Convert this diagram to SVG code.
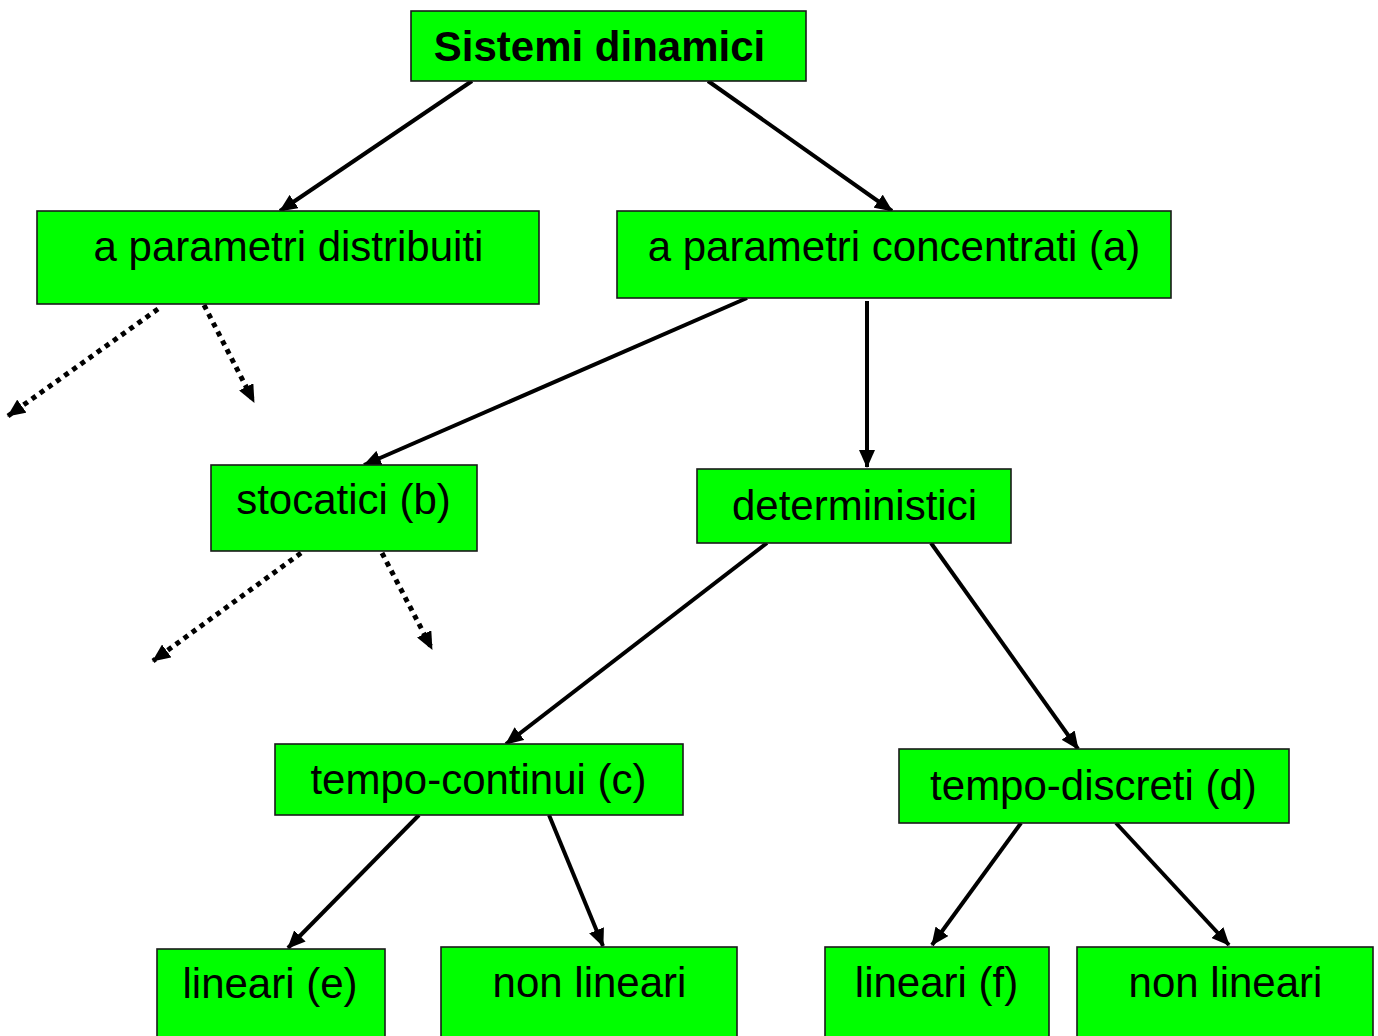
<svg xmlns="http://www.w3.org/2000/svg" width="1378" height="1036" viewBox="0 0 1378 1036">
<style>
.box{fill:#00FF00;stroke:#1a1a1a;stroke-width:1.6}
.t{font-family:"Liberation Sans",Arial,sans-serif;font-size:42px;fill:#000;text-anchor:middle}
.b{font-weight:bold}
.c{stroke:#000;stroke-width:4;fill:none}
.d{stroke:#000;stroke-width:5;fill:none;stroke-dasharray:5 5}
</style>
<defs>
<marker id="ah" markerUnits="userSpaceOnUse" markerWidth="18" markerHeight="16" refX="17" refY="8" orient="auto">
<path d="M0,0 L18,8 L0,16 z" fill="#000"/>
</marker>
</defs>
<rect width="1378" height="1036" fill="#fff"/>
<g id="connectors">
<line class="c" x1="472" y1="81" x2="280" y2="211" marker-end="url(#ah)"/>
<line class="c" x1="708" y1="81" x2="892" y2="211" marker-end="url(#ah)"/>
<line class="c" x1="747" y1="298" x2="364" y2="465" marker-end="url(#ah)"/>
<line class="c" x1="867" y1="301" x2="867" y2="467" marker-end="url(#ah)"/>
<line class="c" x1="767" y1="543" x2="506" y2="744" marker-end="url(#ah)"/>
<line class="c" x1="931" y1="543" x2="1078" y2="749" marker-end="url(#ah)"/>
<line class="c" x1="419" y1="815" x2="288" y2="948" marker-end="url(#ah)"/>
<line class="c" x1="549" y1="815" x2="603" y2="946" marker-end="url(#ah)"/>
<line class="c" x1="1021" y1="823" x2="932" y2="945" marker-end="url(#ah)"/>
<line class="c" x1="1116" y1="823" x2="1229" y2="945" marker-end="url(#ah)"/>
<line class="d" x1="158" y1="309" x2="8" y2="416" marker-end="url(#ah)"/>
<line class="d" x1="204" y1="305" x2="254" y2="402" marker-end="url(#ah)"/>
<line class="d" x1="301" y1="553" x2="153" y2="661" marker-end="url(#ah)"/>
<line class="d" x1="382" y1="553" x2="432" y2="649" marker-end="url(#ah)"/>
</g>
<g id="n-sistemi"><rect class="box" x="411" y="11" width="395" height="70"/><text class="t b" x="599.5" y="61">Sistemi dinamici</text></g>
<g id="n-distribuiti"><rect class="box" x="37" y="211" width="502" height="93"/><text class="t" x="288.5" y="261">a parametri distribuiti</text></g>
<g id="n-concentrati"><rect class="box" x="617" y="211" width="554" height="87"/><text class="t" x="894" y="261">a parametri concentrati (a)</text></g>
<g id="n-stocatici"><rect class="box" x="211" y="465" width="266" height="86"/><text class="t" x="343.5" y="514">stocatici (b)</text></g>
<g id="n-deterministici"><rect class="box" x="697" y="469" width="314" height="74"/><text class="t" x="854.5" y="520">deterministici</text></g>
<g id="n-continui"><rect class="box" x="275" y="744" width="408" height="71"/><text class="t" x="478.5" y="794">tempo-continui (c)</text></g>
<g id="n-discreti"><rect class="box" x="899" y="749" width="390" height="74"/><text class="t" x="1093.5" y="800">tempo-discreti (d)</text></g>
<g id="n-lineari-e"><rect class="box" x="157" y="949" width="228" height="100"/><text class="t" x="270" y="998">lineari (e)</text></g>
<g id="n-nonlineari-1"><rect class="box" x="441" y="947" width="296" height="100"/><text class="t" x="589.5" y="997">non lineari</text></g>
<g id="n-lineari-f"><rect class="box" x="825" y="947" width="224" height="100"/><text class="t" x="936.5" y="997">lineari (f)</text></g>
<g id="n-nonlineari-2"><rect class="box" x="1077" y="947" width="296" height="100"/><text class="t" x="1225.5" y="997">non lineari</text></g>
</svg>
